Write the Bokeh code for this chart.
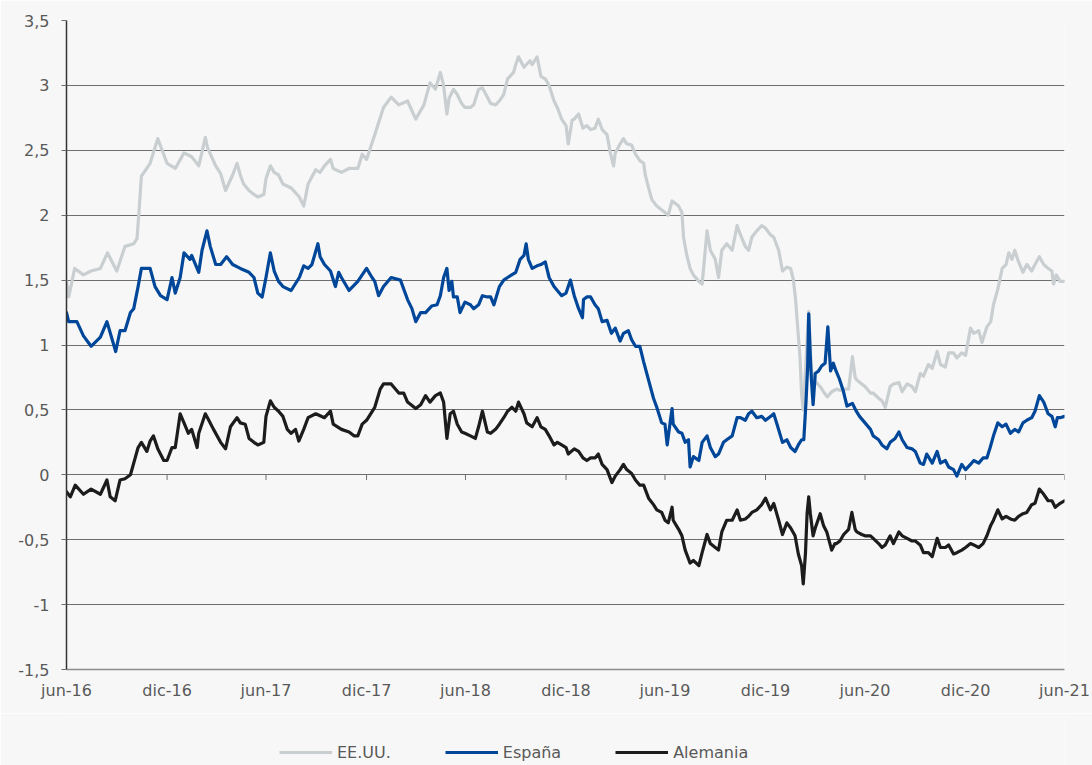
import pandas as pd
from bokeh.plotting import figure
from bokeh.layouts import column
from bokeh.models import (Range1d, FixedTicker, CustomJSTickFormatter, Legend,
                          LegendItem, ColumnDataSource)
from bokeh.embed import file_html
from bokeh.resources import INLINE

series_names = ["EE.UU.", "España", "Alemania"]
series_colors = ["#C9CED1", "#00479A", "#1C1C1C"]

y_ticks = [-1.5, -1.0, -0.5, 0.0, 0.5, 1.0, 1.5, 2.0, 2.5, 3.0, 3.5]
x_tick_dates = ["2016-06-30", "2016-12-31", "2017-06-30", "2017-12-31",
                "2018-06-30", "2018-12-31", "2019-06-30", "2019-12-31",
                "2020-06-30", "2020-12-31", "2021-06-30"]
month_names = ["ene", "feb", "mar", "abr", "may", "jun",
               "jul", "ago", "sep", "oct", "nov", "dic"]

us_series = [
    ("2016-06-30", 1.49), ("2016-07-04", 1.37), ("2016-07-15", 1.59), ("2016-07-31", 1.54),
    ("2016-08-14", 1.57), ("2016-08-31", 1.59), ("2016-09-13", 1.71), ("2016-09-30", 1.57),
    ("2016-10-15", 1.76), ("2016-10-31", 1.78), ("2016-11-06", 1.82), ("2016-11-10", 2.05),
    ("2016-11-14", 2.30), ("2016-11-30", 2.40), ("2016-12-14", 2.59), ("2016-12-31", 2.40),
    ("2017-01-15", 2.36), ("2017-01-31", 2.48), ("2017-02-14", 2.45), ("2017-02-27", 2.38),
    ("2017-03-11", 2.60), ("2017-03-15", 2.52), ("2017-03-30", 2.38), ("2017-04-08", 2.32),
    ("2017-04-17", 2.19), ("2017-04-30", 2.31), ("2017-05-08", 2.40), ("2017-05-14", 2.31),
    ("2017-05-20", 2.24), ("2017-05-30", 2.19), ("2017-06-08", 2.16), ("2017-06-15", 2.14),
    ("2017-06-26", 2.16), ("2017-06-30", 2.28), ("2017-07-08", 2.38), ("2017-07-15", 2.33),
    ("2017-07-23", 2.31), ("2017-07-31", 2.24), ("2017-08-15", 2.21), ("2017-08-30", 2.14),
    ("2017-09-07", 2.07), ("2017-09-15", 2.24), ("2017-09-29", 2.35), ("2017-10-07", 2.33),
    ("2017-10-15", 2.38), ("2017-10-26", 2.43), ("2017-10-31", 2.36), ("2017-11-15", 2.33),
    ("2017-11-29", 2.36), ("2017-12-15", 2.36), ("2017-12-23", 2.47), ("2017-12-31", 2.43),
    ("2018-01-15", 2.62), ("2018-01-31", 2.83), ("2018-02-14", 2.91), ("2018-02-28", 2.85),
    ("2018-03-16", 2.88), ("2018-03-31", 2.74), ("2018-04-15", 2.85), ("2018-04-26", 3.02),
    ("2018-05-06", 2.97), ("2018-05-15", 3.10), ("2018-05-21", 3.00), ("2018-05-27", 2.78),
    ("2018-05-31", 2.90), ("2018-06-08", 2.97), ("2018-06-15", 2.93), ("2018-06-23", 2.86),
    ("2018-06-29", 2.83), ("2018-07-09", 2.83), ("2018-07-15", 2.85), ("2018-07-24", 2.97),
    ("2018-07-31", 2.98), ("2018-08-09", 2.91), ("2018-08-15", 2.86), ("2018-08-24", 2.85),
    ("2018-08-31", 2.88), ("2018-09-08", 2.93), ("2018-09-15", 3.05), ("2018-09-26", 3.10),
    ("2018-09-30", 3.16), ("2018-10-05", 3.22), ("2018-10-15", 3.14), ("2018-10-26", 3.19),
    ("2018-10-30", 3.16), ("2018-11-08", 3.22), ("2018-11-15", 3.07), ("2018-11-23", 3.05),
    ("2018-11-30", 3.00), ("2018-12-09", 2.88), ("2018-12-15", 2.83), ("2018-12-23", 2.74),
    ("2018-12-31", 2.69), ("2019-01-04", 2.55), ("2019-01-11", 2.73), ("2019-01-15", 2.74),
    ("2019-01-23", 2.78), ("2019-01-31", 2.67), ("2019-02-07", 2.69), ("2019-02-14", 2.66),
    ("2019-02-22", 2.67), ("2019-02-28", 2.74), ("2019-03-07", 2.66), ("2019-03-16", 2.62),
    ("2019-03-22", 2.48), ("2019-03-28", 2.38), ("2019-03-31", 2.48), ("2019-04-09", 2.55),
    ("2019-04-15", 2.59), ("2019-04-21", 2.55), ("2019-04-30", 2.54), ("2019-05-07", 2.47),
    ("2019-05-15", 2.42), ("2019-05-22", 2.40), ("2019-05-25", 2.31), ("2019-05-31", 2.21),
    ("2019-06-06", 2.12), ("2019-06-15", 2.07), ("2019-06-24", 2.04), ("2019-06-30", 2.02),
    ("2019-07-06", 2.00), ("2019-07-13", 2.11), ("2019-07-25", 2.07), ("2019-07-31", 2.02),
    ("2019-08-03", 1.83), ("2019-08-09", 1.69), ("2019-08-15", 1.59), ("2019-08-21", 1.54),
    ("2019-08-31", 1.49), ("2019-09-06", 1.47), ("2019-09-15", 1.88), ("2019-09-21", 1.73),
    ("2019-09-30", 1.66), ("2019-10-06", 1.52), ("2019-10-12", 1.73), ("2019-10-21", 1.78),
    ("2019-10-31", 1.73), ("2019-11-09", 1.92), ("2019-11-15", 1.85), ("2019-11-24", 1.76),
    ("2019-11-30", 1.73), ("2019-12-06", 1.83), ("2019-12-15", 1.88), ("2019-12-24", 1.92),
    ("2019-12-31", 1.90), ("2020-01-09", 1.85), ("2020-01-15", 1.83), ("2020-01-24", 1.73),
    ("2020-01-31", 1.57), ("2020-02-08", 1.60), ("2020-02-15", 1.59), ("2020-02-20", 1.50),
    ("2020-02-24", 1.35), ("2020-02-27", 1.18), ("2020-03-03", 0.91), ("2020-03-06", 0.62),
    ("2020-03-09", 0.50), ("2020-03-13", 0.80), ("2020-03-19", 1.26), ("2020-03-24", 0.80),
    ("2020-03-31", 0.72), ("2020-04-09", 0.68), ("2020-04-15", 0.64), ("2020-04-22", 0.60),
    ("2020-04-30", 0.64), ("2020-05-09", 0.66), ("2020-05-16", 0.65), ("2020-05-22", 0.66),
    ("2020-05-31", 0.66), ("2020-06-07", 0.91), ("2020-06-12", 0.75), ("2020-06-15", 0.73),
    ("2020-06-24", 0.70), ("2020-06-30", 0.68), ("2020-07-10", 0.63), ("2020-07-15", 0.63),
    ("2020-07-25", 0.59), ("2020-07-31", 0.57), ("2020-08-06", 0.52), ("2020-08-15", 0.68),
    ("2020-08-21", 0.70), ("2020-08-31", 0.71), ("2020-09-06", 0.64), ("2020-09-15", 0.70),
    ("2020-09-24", 0.68), ("2020-09-30", 0.64), ("2020-10-09", 0.78), ("2020-10-15", 0.76),
    ("2020-10-24", 0.85), ("2020-10-31", 0.82), ("2020-11-09", 0.95), ("2020-11-15", 0.85),
    ("2020-11-24", 0.83), ("2020-11-30", 0.94), ("2020-12-09", 0.94), ("2020-12-15", 0.90),
    ("2020-12-24", 0.94), ("2020-12-31", 0.92), ("2021-01-09", 1.13), ("2021-01-15", 1.09),
    ("2021-01-24", 1.11), ("2021-01-30", 1.02), ("2021-02-08", 1.14), ("2021-02-15", 1.18),
    ("2021-02-20", 1.31), ("2021-02-28", 1.43), ("2021-03-08", 1.59), ("2021-03-15", 1.62),
    ("2021-03-20", 1.71), ("2021-03-26", 1.66), ("2021-03-31", 1.73), ("2021-04-07", 1.64),
    ("2021-04-15", 1.56), ("2021-04-22", 1.62), ("2021-05-01", 1.57), ("2021-05-07", 1.62),
    ("2021-05-15", 1.68), ("2021-05-23", 1.62), ("2021-05-31", 1.59), ("2021-06-07", 1.57),
    ("2021-06-10", 1.47), ("2021-06-15", 1.54), ("2021-06-22", 1.49), ("2021-06-30", 1.49),
]

es_series = [
    ("2016-06-30", 1.25), ("2016-07-04", 1.18), ("2016-07-19", 1.18), ("2016-07-31", 1.07),
    ("2016-08-14", 0.99), ("2016-08-31", 1.06), ("2016-09-12", 1.18), ("2016-09-28", 0.95),
    ("2016-10-06", 1.11), ("2016-10-15", 1.11), ("2016-10-25", 1.25), ("2016-10-31", 1.28),
    ("2016-11-08", 1.45), ("2016-11-14", 1.59), ("2016-11-30", 1.59), ("2016-12-09", 1.45),
    ("2016-12-19", 1.38), ("2016-12-31", 1.35), ("2017-01-09", 1.52), ("2017-01-15", 1.40),
    ("2017-01-24", 1.52), ("2017-01-31", 1.71), ("2017-02-11", 1.66), ("2017-02-14", 1.69),
    ("2017-02-27", 1.56), ("2017-03-05", 1.73), ("2017-03-14", 1.88), ("2017-03-20", 1.76),
    ("2017-03-30", 1.62), ("2017-04-08", 1.62), ("2017-04-19", 1.68), ("2017-04-30", 1.62),
    ("2017-05-14", 1.59), ("2017-05-30", 1.56), ("2017-06-08", 1.52), ("2017-06-15", 1.40),
    ("2017-06-23", 1.37), ("2017-06-30", 1.52), ("2017-07-08", 1.71), ("2017-07-15", 1.57),
    ("2017-07-23", 1.49), ("2017-07-31", 1.45), ("2017-08-15", 1.42), ("2017-08-30", 1.52),
    ("2017-09-07", 1.61), ("2017-09-15", 1.59), ("2017-09-22", 1.62), ("2017-10-03", 1.78),
    ("2017-10-07", 1.68), ("2017-10-15", 1.62), ("2017-10-26", 1.57), ("2017-11-04", 1.45),
    ("2017-11-10", 1.56), ("2017-11-15", 1.52), ("2017-11-29", 1.42), ("2017-12-15", 1.49),
    ("2017-12-31", 1.59), ("2018-01-10", 1.52), ("2018-01-15", 1.49), ("2018-01-22", 1.38),
    ("2018-01-31", 1.45), ("2018-02-14", 1.52), ("2018-03-03", 1.50), ("2018-03-16", 1.35),
    ("2018-03-24", 1.28), ("2018-03-31", 1.18), ("2018-04-09", 1.25), ("2018-04-18", 1.25),
    ("2018-04-29", 1.30), ("2018-05-09", 1.31), ("2018-05-15", 1.38), ("2018-05-21", 1.52),
    ("2018-05-27", 1.59), ("2018-05-31", 1.42), ("2018-06-05", 1.49), ("2018-06-08", 1.37),
    ("2018-06-15", 1.37), ("2018-06-20", 1.25), ("2018-06-29", 1.33), ("2018-07-09", 1.31),
    ("2018-07-15", 1.28), ("2018-07-24", 1.31), ("2018-07-31", 1.38), ("2018-08-09", 1.37),
    ("2018-08-15", 1.37), ("2018-08-21", 1.31), ("2018-08-31", 1.45), ("2018-09-08", 1.50),
    ("2018-09-15", 1.52), ("2018-09-30", 1.56), ("2018-10-08", 1.66), ("2018-10-15", 1.69),
    ("2018-10-19", 1.78), ("2018-10-23", 1.66), ("2018-10-30", 1.59), ("2018-11-08", 1.61),
    ("2018-11-15", 1.62), ("2018-11-23", 1.64), ("2018-11-30", 1.52), ("2018-12-09", 1.45),
    ("2018-12-15", 1.42), ("2018-12-23", 1.38), ("2018-12-31", 1.40), ("2019-01-08", 1.50),
    ("2019-01-15", 1.38), ("2019-01-23", 1.28), ("2019-01-30", 1.21), ("2019-02-01", 1.35),
    ("2019-02-07", 1.37), ("2019-02-14", 1.37), ("2019-02-22", 1.31), ("2019-02-28", 1.28),
    ("2019-03-07", 1.18), ("2019-03-16", 1.19), ("2019-03-24", 1.09), ("2019-03-31", 1.13),
    ("2019-04-09", 1.03), ("2019-04-15", 1.09), ("2019-04-24", 1.11), ("2019-04-30", 1.04),
    ("2019-05-07", 0.99), ("2019-05-15", 0.99), ("2019-05-22", 0.87), ("2019-05-31", 0.73),
    ("2019-06-09", 0.59), ("2019-06-15", 0.52), ("2019-06-24", 0.40), ("2019-06-30", 0.39),
    ("2019-07-04", 0.23), ("2019-07-10", 0.42), ("2019-07-13", 0.51), ("2019-07-15", 0.39),
    ("2019-07-25", 0.33), ("2019-07-31", 0.32), ("2019-08-06", 0.25), ("2019-08-12", 0.27),
    ("2019-08-15", 0.06), ("2019-08-21", 0.14), ("2019-08-31", 0.11), ("2019-09-06", 0.25),
    ("2019-09-15", 0.30), ("2019-09-21", 0.21), ("2019-09-30", 0.14), ("2019-10-06", 0.16),
    ("2019-10-15", 0.25), ("2019-10-21", 0.27), ("2019-10-31", 0.30), ("2019-11-09", 0.44),
    ("2019-11-15", 0.44), ("2019-11-24", 0.42), ("2019-11-30", 0.47), ("2019-12-06", 0.49),
    ("2019-12-15", 0.44), ("2019-12-24", 0.45), ("2019-12-31", 0.42), ("2020-01-09", 0.45),
    ("2020-01-15", 0.47), ("2020-01-21", 0.39), ("2020-01-31", 0.25), ("2020-02-08", 0.27),
    ("2020-02-15", 0.21), ("2020-02-23", 0.18), ("2020-02-29", 0.23), ("2020-03-06", 0.27),
    ("2020-03-10", 0.27), ("2020-03-14", 0.56), ("2020-03-17", 0.83), ("2020-03-19", 1.24),
    ("2020-03-22", 0.90), ("2020-03-24", 0.73), ("2020-03-27", 0.54), ("2020-03-31", 0.78),
    ("2020-04-06", 0.80), ("2020-04-12", 0.84), ("2020-04-18", 0.86), ("2020-04-23", 1.14),
    ("2020-04-28", 0.80), ("2020-05-03", 0.86), ("2020-05-08", 0.80), ("2020-05-14", 0.74),
    ("2020-05-21", 0.65), ("2020-05-28", 0.53), ("2020-06-07", 0.55), ("2020-06-14", 0.49),
    ("2020-06-20", 0.45), ("2020-06-30", 0.40), ("2020-07-10", 0.35),
    ("2020-07-15", 0.30), ("2020-07-25", 0.27), ("2020-07-31", 0.23), ("2020-08-09", 0.20),
    ("2020-08-15", 0.25), ("2020-08-24", 0.28), ("2020-08-31", 0.33), ("2020-09-06", 0.27),
    ("2020-09-15", 0.21), ("2020-09-24", 0.20), ("2020-09-30", 0.18), ("2020-10-09", 0.09),
    ("2020-10-15", 0.08), ("2020-10-21", 0.16), ("2020-10-31", 0.09), ("2020-11-09", 0.18),
    ("2020-11-15", 0.09), ("2020-11-24", 0.11), ("2020-11-30", 0.06), ("2020-12-09", 0.04),
    ("2020-12-15", -0.01), ("2020-12-24", 0.08), ("2020-12-31", 0.04), ("2021-01-09", 0.08),
    ("2021-01-15", 0.11), ("2021-01-24", 0.09), ("2021-02-01", 0.13), ("2021-02-08", 0.13),
    ("2021-02-14", 0.21), ("2021-02-20", 0.30), ("2021-02-28", 0.40), ("2021-03-08", 0.37),
    ("2021-03-15", 0.39), ("2021-03-23", 0.32), ("2021-03-31", 0.35), ("2021-04-07", 0.33),
    ("2021-04-15", 0.40), ("2021-04-22", 0.42), ("2021-05-01", 0.44), ("2021-05-07", 0.49),
    ("2021-05-15", 0.61), ("2021-05-23", 0.56), ("2021-05-31", 0.47), ("2021-06-07", 0.45),
    ("2021-06-13", 0.37), ("2021-06-17", 0.44), ("2021-06-22", 0.44), ("2021-06-30", 0.45),
]

de_series = [
    ("2016-06-30", -0.13), ("2016-07-07", -0.17), ("2016-07-16", -0.08), ("2016-07-31", -0.15),
    ("2016-08-14", -0.11), ("2016-08-31", -0.15), ("2016-09-12", -0.04), ("2016-09-18", -0.17),
    ("2016-09-27", -0.20), ("2016-10-06", -0.04), ("2016-10-15", -0.03), ("2016-10-25", 0.00),
    ("2016-10-31", 0.09), ("2016-11-08", 0.21), ("2016-11-14", 0.25), ("2016-11-24", 0.18),
    ("2016-11-30", 0.26), ("2016-12-06", 0.30), ("2016-12-14", 0.20), ("2016-12-25", 0.11),
    ("2016-12-31", 0.11), ("2017-01-09", 0.21), ("2017-01-15", 0.21), ("2017-01-24", 0.47),
    ("2017-01-31", 0.40), ("2017-02-08", 0.32), ("2017-02-14", 0.35), ("2017-02-24", 0.21),
    ("2017-02-27", 0.32), ("2017-03-11", 0.47), ("2017-03-15", 0.44), ("2017-03-26", 0.35),
    ("2017-04-08", 0.25), ("2017-04-17", 0.20), ("2017-04-26", 0.37), ("2017-05-08", 0.44),
    ("2017-05-14", 0.40), ("2017-05-23", 0.39), ("2017-05-30", 0.28), ("2017-06-08", 0.25),
    ("2017-06-15", 0.23), ("2017-06-26", 0.25), ("2017-06-30", 0.45), ("2017-07-08", 0.57),
    ("2017-07-15", 0.52), ("2017-07-23", 0.49), ("2017-07-31", 0.45), ("2017-08-08", 0.35),
    ("2017-08-15", 0.32), ("2017-08-23", 0.35), ("2017-08-29", 0.26), ("2017-09-07", 0.35),
    ("2017-09-15", 0.44), ("2017-09-29", 0.47), ("2017-10-15", 0.44), ("2017-10-26", 0.49),
    ("2017-10-31", 0.39), ("2017-11-15", 0.35), ("2017-11-29", 0.33), ("2017-12-08", 0.30),
    ("2017-12-15", 0.30), ("2017-12-23", 0.39), ("2017-12-31", 0.42), ("2018-01-15", 0.52),
    ("2018-01-25", 0.66), ("2018-01-31", 0.70), ("2018-02-14", 0.70), ("2018-02-28", 0.63),
    ("2018-03-09", 0.63), ("2018-03-16", 0.56), ("2018-03-31", 0.51), ("2018-04-09", 0.54),
    ("2018-04-18", 0.61), ("2018-04-26", 0.56), ("2018-05-06", 0.61), ("2018-05-15", 0.63),
    ("2018-05-21", 0.56), ("2018-05-27", 0.28), ("2018-06-02", 0.47), ("2018-06-08", 0.49),
    ("2018-06-15", 0.39), ("2018-06-23", 0.33), ("2018-06-29", 0.32), ("2018-07-09", 0.30),
    ("2018-07-18", 0.28), ("2018-07-24", 0.37), ("2018-07-31", 0.49), ("2018-08-09", 0.33),
    ("2018-08-15", 0.32), ("2018-08-24", 0.35), ("2018-08-31", 0.39), ("2018-09-08", 0.44),
    ("2018-09-15", 0.49), ("2018-09-23", 0.52), ("2018-09-30", 0.49), ("2018-10-05", 0.56),
    ("2018-10-15", 0.47), ("2018-10-20", 0.40), ("2018-10-30", 0.37), ("2018-11-08", 0.44),
    ("2018-11-15", 0.37), ("2018-11-23", 0.35), ("2018-11-30", 0.30), ("2018-12-09", 0.23),
    ("2018-12-15", 0.25), ("2018-12-23", 0.23), ("2018-12-31", 0.21), ("2019-01-04", 0.16),
    ("2019-01-15", 0.20), ("2019-01-23", 0.18), ("2019-01-31", 0.13), ("2019-02-07", 0.11),
    ("2019-02-14", 0.13), ("2019-02-22", 0.13), ("2019-02-28", 0.16), ("2019-03-07", 0.08),
    ("2019-03-16", 0.04), ("2019-03-25", -0.06), ("2019-03-31", -0.01), ("2019-04-09", 0.04),
    ("2019-04-15", 0.08), ("2019-04-21", 0.04), ("2019-04-30", 0.01), ("2019-05-07", -0.04),
    ("2019-05-15", -0.08), ("2019-05-22", -0.08), ("2019-05-31", -0.18), ("2019-06-09", -0.23),
    ("2019-06-15", -0.27), ("2019-06-24", -0.29), ("2019-06-30", -0.35), ("2019-07-06", -0.37),
    ("2019-07-13", -0.25), ("2019-07-15", -0.35), ("2019-07-25", -0.42), ("2019-07-31", -0.47),
    ("2019-08-06", -0.58), ("2019-08-15", -0.68), ("2019-08-21", -0.66), ("2019-08-31", -0.70),
    ("2019-09-06", -0.60), ("2019-09-15", -0.46), ("2019-09-21", -0.53), ("2019-09-30", -0.56),
    ("2019-10-06", -0.58), ("2019-10-12", -0.44), ("2019-10-21", -0.35), ("2019-10-31", -0.35),
    ("2019-11-09", -0.27), ("2019-11-15", -0.35), ("2019-11-24", -0.34), ("2019-11-30", -0.32),
    ("2019-12-06", -0.29), ("2019-12-15", -0.27), ("2019-12-24", -0.23), ("2019-12-31", -0.18),
    ("2020-01-09", -0.27), ("2020-01-15", -0.22), ("2020-01-24", -0.35), ("2020-01-31", -0.46),
    ("2020-02-08", -0.37), ("2020-02-15", -0.41), ("2020-02-23", -0.47), ("2020-02-29", -0.61),
    ("2020-03-06", -0.70), ("2020-03-09", -0.84), ("2020-03-13", -0.61), ("2020-03-16", -0.30),
    ("2020-03-19", -0.17), ("2020-03-22", -0.30), ("2020-03-27", -0.47), ("2020-03-31", -0.41),
    ("2020-04-09", -0.30), ("2020-04-15", -0.39), ("2020-04-21", -0.44), ("2020-04-30", -0.58),
    ("2020-05-06", -0.53), ("2020-05-09", -0.53), ("2020-05-15", -0.51), ("2020-05-22", -0.46),
    ("2020-05-31", -0.42), ("2020-06-06", -0.29), ("2020-06-12", -0.42), ("2020-06-15", -0.44),
    ("2020-06-24", -0.46), ("2020-06-30", -0.47), ("2020-07-10", -0.47), ("2020-07-15", -0.49),
    ("2020-07-25", -0.53), ("2020-07-31", -0.56), ("2020-08-06", -0.54), ("2020-08-15", -0.47),
    ("2020-08-21", -0.53), ("2020-08-31", -0.44), ("2020-09-06", -0.47), ("2020-09-15", -0.49),
    ("2020-09-24", -0.51), ("2020-09-30", -0.51), ("2020-10-09", -0.54), ("2020-10-15", -0.60),
    ("2020-10-24", -0.60), ("2020-10-31", -0.63), ("2020-11-09", -0.49), ("2020-11-15", -0.56),
    ("2020-11-24", -0.56), ("2020-11-30", -0.54), ("2020-12-09", -0.61), ("2020-12-15", -0.60),
    ("2020-12-24", -0.58), ("2020-12-31", -0.56), ("2021-01-09", -0.53), ("2021-01-15", -0.54),
    ("2021-01-24", -0.56), ("2021-02-01", -0.53), ("2021-02-08", -0.47), ("2021-02-15", -0.39),
    ("2021-02-20", -0.35), ("2021-02-28", -0.27), ("2021-03-08", -0.34), ("2021-03-15", -0.32),
    ("2021-03-23", -0.34), ("2021-03-31", -0.35), ("2021-04-07", -0.32), ("2021-04-15", -0.30),
    ("2021-04-22", -0.29), ("2021-05-01", -0.23), ("2021-05-07", -0.22), ("2021-05-15", -0.11),
    ("2021-05-23", -0.15), ("2021-05-31", -0.20), ("2021-06-07", -0.20), ("2021-06-13", -0.25),
    ("2021-06-22", -0.22), ("2021-06-30", -0.20),
]

FONT = "DejaVu Sans"
TEXT_COLOR = "#595959"
BG = "#F7F7F7"
LINE_W = 3.2

x_start = pd.Timestamp(x_tick_dates[0])
x_end = pd.Timestamp(x_tick_dates[-1])

p = figure(width=1092, height=713, x_axis_type="datetime",
           x_range=Range1d(x_start, x_end), y_range=Range1d(y_ticks[0], y_ticks[-1]),
           output_backend="svg", toolbar_location=None,
           min_border_left=66, min_border_right=28, min_border_top=20, min_border_bottom=44)
p.background_fill_color = BG
p.border_fill_color = BG
p.outline_line_color = None

# grid
p.xgrid.visible = False
p.ygrid.ticker = FixedTicker(ticks=y_ticks)
p.ygrid.grid_line_color = "#6E6E6E"
p.ygrid.grid_line_width = 1

# y axis
p.yaxis.ticker = FixedTicker(ticks=y_ticks)
p.yaxis.formatter = CustomJSTickFormatter(code="return String(tick).replace('.', ',');")
p.yaxis.axis_line_color = "#333333"
p.yaxis.axis_line_width = 1.5
p.yaxis.major_tick_out = 5
p.yaxis.major_tick_in = 0
p.yaxis.major_tick_line_color = "#6E6E6E"
p.yaxis.minor_tick_line_color = None
p.yaxis.major_label_standoff = 12
p.yaxis.major_label_text_font = FONT
p.yaxis.major_label_text_font_size = "16px"
p.yaxis.major_label_text_color = TEXT_COLOR

# x axis
tick_ms = [float(pd.Timestamp(d).value // 10**6) for d in x_tick_dates]
p.xaxis.ticker = FixedTicker(ticks=tick_ms)
p.xaxis.formatter = CustomJSTickFormatter(
    args=dict(names=month_names),
    code="const d = new Date(tick); return names[d.getUTCMonth()] + '-' + String(d.getUTCFullYear()).slice(2);")
p.xaxis.axis_line_color = "#8C8C8C"
p.xaxis.axis_line_width = 1.5
p.xaxis.major_tick_out = 0
p.xaxis.major_tick_in = 0
p.xaxis.minor_tick_line_color = None
p.xaxis.major_label_standoff = 11
p.xaxis.major_label_text_font = FONT
p.xaxis.major_label_text_font_size = "16px"
p.xaxis.major_label_text_color = TEXT_COLOR

# small tick marks on the zero line
tick_dt = [pd.Timestamp(d) for d in x_tick_dates]
p.segment(x0=tick_dt, y0=[0.0] * len(tick_dt), x1=tick_dt, y1=[-0.04] * len(tick_dt),
          line_color="#6E6E6E", line_width=1)

for name, color, data in zip(series_names, series_colors, [us_series, es_series, de_series]):
    dates = [pd.Timestamp(d) for d, _ in data]
    vals = [v for _, v in data]
    src = ColumnDataSource(dict(x=dates, y=vals))
    p.line("x", "y", source=src, line_color=color, line_width=LINE_W,
           line_join="round", line_cap="round")

# legend strip below the chart
lg = figure(width=1092, height=52, x_range=Range1d(0, 1), y_range=Range1d(0, 1),
            output_backend="svg", toolbar_location=None,
            x_axis_location=None, y_axis_location=None,
            min_border=0, min_border_left=0, min_border_right=0,
            min_border_top=0, min_border_bottom=0)
lg.background_fill_color = BG
lg.border_fill_color = BG
lg.outline_line_color = None
lg.xgrid.visible = False
lg.ygrid.visible = False

items = []
for name, color in zip(series_names, series_colors):
    # off-range placeholder so that the legend swatch has a style to draw
    r = lg.line(x=[-5, -4], y=[-5, -5], line_color=color, line_width=LINE_W)
    items.append(LegendItem(label=name, renderers=[r]))

legend = Legend(items=items, orientation="horizontal", location=(213, 3),
                glyph_width=53, glyph_height=20, spacing=54, label_standoff=5,
                padding=0, margin=0, background_fill_alpha=0, border_line_alpha=0,
                label_text_font=FONT, label_text_font_size="16px",
                label_text_color=TEXT_COLOR)
lg.add_layout(legend)

layout = column(p, lg, spacing=0)
open("out.html", "w").write(file_html(layout, INLINE))
